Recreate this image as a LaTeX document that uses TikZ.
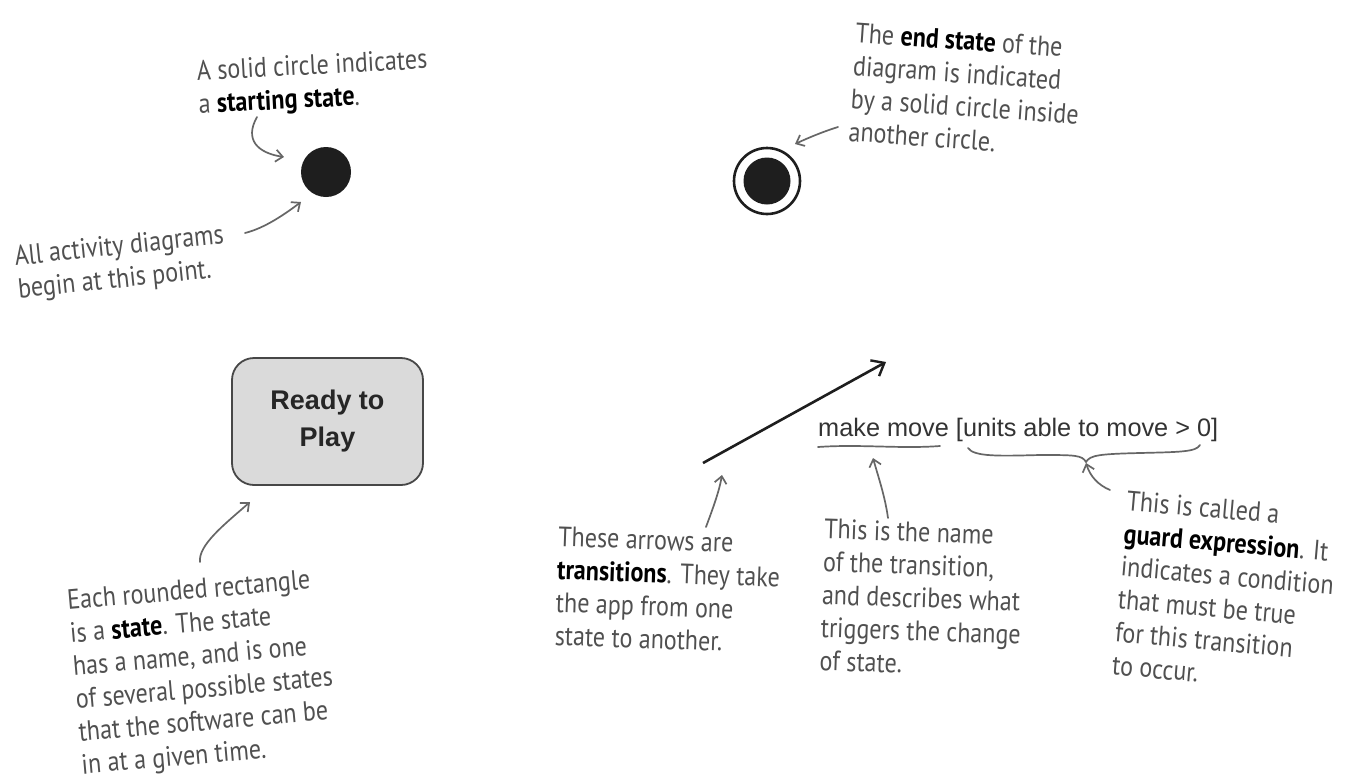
\documentclass[tikz,border=0pt]{standalone}
\usepackage{fontspec}
\setmainfont{PT Sans}
\newfontfamily\handfont{PT Sans}[FakeStretch=0.86]
\newfontfamily\arialfont{Liberation Sans}
\usetikzlibrary{arrows.meta}
\definecolor{notegray}{HTML}{505050}
\definecolor{pointgray}{HTML}{666666}
\definecolor{boxfill}{HTML}{DADADA}
\definecolor{boxline}{HTML}{474747}
\definecolor{inkdark}{HTML}{1E1E1E}
\newcommand\kw[1]{\textcolor{black}{\bfseries #1}}
\begin{document}
\begin{tikzpicture}[x=1pt,y=-1pt,
  note/.style={text=notegray, font=\handfont\fontsize{28}{33}\selectfont, align=left, inner sep=0pt},
  pointer/.style={draw=pointgray, line width=1.7pt, line cap=round, -{Straight Barb[length=7pt,width=12pt,line width=1.7pt]}},
  markline/.style={draw=pointgray, line width=1.7pt, line cap=round},
  statebox/.style={draw=boxline, fill=boxfill, line width=1.8pt, rounded corners=22pt,
     minimum width=191pt, minimum height=127pt, align=center,
     font=\arialfont\bfseries\fontsize{27}{37}\selectfont, text=black!85},
  dot/.style={circle, fill=inkdark, inner sep=0pt}
]
\useasboundingbox (0,0) rectangle (1347,782);
\fill[white] (0,0) rectangle (1347,782);

% start state
\node[dot, minimum size=50pt] (start) at (326,172) {};
% end state
\node[circle, draw=inkdark, line width=2.6pt, minimum size=66pt, inner sep=0pt] (endouter) at (767,181) {};
\node[dot, minimum size=47pt] (endinner) at (767,181) {};
% state
\node[statebox] (ready) at (327.5,421.5) {Ready to\\Play};

% transition
\coordinate (tA) at (703,463);
\coordinate (tB) at (886,362);
\draw[draw=inkdark, line width=2.6pt, -{Straight Barb[length=11pt,width=18pt,line width=2.4pt]}] (tA) -- (tB);
\node[anchor=base west, inner sep=0pt, font=\arialfont\fontsize{25.3}{30}\selectfont, text=black!80] (label) at (818,436) {make move [units able to move > 0]};
% underline and brace
\draw[markline] (818,447) .. controls (860,444) and (900,449) .. (940,446);
\draw[markline] (968,448) .. controls (974,457) and (1000,456) .. (1040,455)
  .. controls (1075,455) and (1082,455) .. (1086,462)
  .. controls (1090,455) and (1100,454) .. (1140,453)
  .. controls (1180,452) and (1196,452) .. (1200,445);

% notes
\node[note, rotate=3] (n1) at (313,84) {A solid circle indicates\\a \kw{starting state}.};
\node[note, rotate=6] (n2) at (121,264) {All activity diagrams\\begin at this point.};
\node[note, rotate=-4] (n3) at (966,90) {The \kw{end state} of the\\diagram is indicated\\by a solid circle inside\\another circle.};
\node[note, rotate=5] (n4) at (203,674) {Each rounded rectangle\\is a \kw{state}. The state\\has a name, and is one\\of several possible states\\that the software can be\\in at a given time.};
\node[note, rotate=-2] (n5) at (668,590) {These arrows are\\\kw{transitions}. They take\\the app from one\\state to another.};
\node[note, rotate=-2] (n6) at (922,598) {This is the name\\of the transition,\\and describes what\\triggers the change\\of state.};
\node[note, rotate=-5] (n7) at (1226,592) {This is called a\\\kw{guard expression}. It\\indicates a condition\\that must be true\\for this transition\\to occur.};

% pointer arrows
\coordinate (p1a) at (257,117); \coordinate (p1b) at (284,157);
\draw[pointer] (p1a) .. controls (244,140) and (258,153) .. (p1b);
\coordinate (p2a) at (245,233); \coordinate (p2b) at (301,202);
\draw[pointer] (p2a) .. controls (265,228) and (285,214) .. (p2b);
\coordinate (p3a) at (838,127); \coordinate (p3b) at (795,144);
\draw[pointer] (p3a) .. controls (825,131) and (810,137) .. (p3b);
\coordinate (p4a) at (200,562); \coordinate (p4b) at (250,502);
\draw[pointer] (p4a) .. controls (198,545) and (225,524) .. (p4b);
\coordinate (p5a) at (706,527); \coordinate (p5b) at (722,475);
\draw[pointer] (p5a) .. controls (713,508) and (719,492) .. (p5b);
\coordinate (p6a) at (888,518); \coordinate (p6b) at (873,458);
\draw[pointer] (p6a) .. controls (885,496) and (878,476) .. (p6b);
\coordinate (p7a) at (1110,490); \coordinate (p7b) at (1086,463);
\draw[pointer] (p7a) .. controls (1098,485) and (1090,476) .. (p7b);
\end{tikzpicture}
\end{document}
